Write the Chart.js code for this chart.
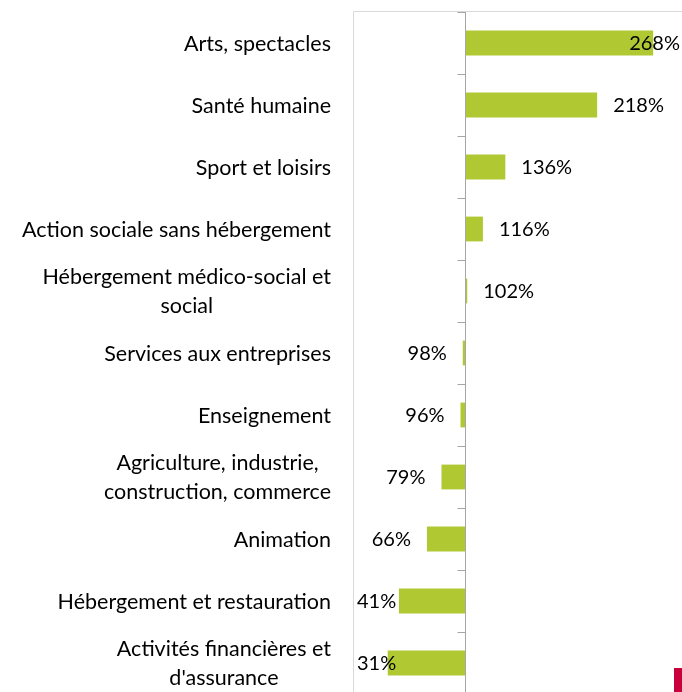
<!DOCTYPE html>
<html>
<head>
<meta charset="utf-8">
<script src="https://cdn.jsdelivr.net/npm/chart.js@4"></script>
<style>
  html, body { margin: 0; padding: 0; background: #fff; }
  #wrap { position: relative; width: 682px; height: 692px; overflow: hidden; }
  #chart { position: absolute; left: 0; top: 0; }
  #mark { position: absolute; left: 674px; top: 668px; width: 8px; height: 24px; background: #c8003c; }
</style>
</head>
<body>
<div id="wrap">
  <canvas id="chart" width="700" height="700"></canvas>
  <div id="mark"></div>
</div>
<script>
const categories = [
    ['Arts, spectacles'],
    ['Santé humaine'],
    ['Sport et loisirs'],
    ['Action sociale sans hébergement'],
    ['Hébergement médico-social et', 'social'],
    ['Services aux entreprises'],
    ['Enseignement'],
    ['Agriculture, industrie,', 'construction, commerce'],
    ['Animation'],
    ['Hébergement et restauration'],
    ['Activités financières et', "d'assurance"]
];
const values = [268, 218, 136, 116, 102, 98, 96, 79, 66, 41, 31];
const baseline = 100;

const FONT_CAT = '21.5px Lato';
const FONT_VAL = '20px Lato';

// Axe vertical à 100 %, cadre, libellés des catégories et des valeurs
const decor = {
    id: 'decor',
    afterDatasetsDraw(chart) {
        const { ctx, chartArea: a, scales: { x, y } } = chart;
        const x0 = Math.round(x.getPixelForValue(baseline)) + 0.5;
        const step = y.getPixelForValue(1) - y.getPixelForValue(0);

        ctx.save();
        // cadre gris clair (haut + gauche)
        ctx.strokeStyle = '#d9d9d9';
        ctx.lineWidth = 1;
        ctx.beginPath();
        ctx.moveTo(a.left + 0.5, a.bottom);
        ctx.lineTo(a.left + 0.5, a.top - 0.5);
        ctx.lineTo(a.right, a.top - 0.5);
        ctx.stroke();

        // axe + graduations
        ctx.strokeStyle = '#a6a6a6';
        ctx.beginPath();
        ctx.moveTo(x0, a.top);
        ctx.lineTo(x0, a.bottom);
        for (let i = 0; i <= categories.length; i++) {
            const yy = Math.round(y.getPixelForValue(i) - step / 2) + 0.5;
            ctx.moveTo(x0 - 8, yy);
            ctx.lineTo(x0, yy);
        }
        ctx.stroke();

        ctx.fillStyle = '#000';
        ctx.textBaseline = 'middle';

        // libellés des catégories : bloc aligné à droite, lignes centrées
        ctx.font = FONT_CAT;
        const right = a.left - 22;
        const lh = 29;
        categories.forEach((lines, i) => {
            const cy = y.getPixelForValue(i);
            const w = Math.max(...lines.map(l => ctx.measureText(l).width));
            const cx = right - w / 2;
            ctx.textAlign = 'center';
            lines.forEach((l, k) => {
                ctx.fillText(l, cx, cy + 1 + (k - (lines.length - 1) / 2) * lh);
            });
        });

        // valeurs
        ctx.font = FONT_VAL;
        const gap = 16;
        const maxRight = 680;
        const minLeft = a.left + 4;
        ctx.textAlign = 'left';
        values.forEach((v, i) => {
            const cy = y.getPixelForValue(i);
            const txt = v + '%';
            const w = ctx.measureText(txt).width;
            const end = x.getPixelForValue(v);
            let left = v >= baseline ? end + gap : end - gap - w;
            left = Math.min(left, maxRight - w);
            left = Math.max(left, minLeft);
            ctx.fillText(txt, left, cy + 1);
        });
        ctx.restore();
    }
};

new Chart(document.getElementById('chart'), {
    type: 'bar',
    data: {
        labels: categories.map(c => c.join(' ')),
        datasets: [{
            data: values.map(v => [baseline, v]),
            backgroundColor: '#b0c832',
            borderWidth: 0,
            categoryPercentage: 1,
            barPercentage: 0.4
        }]
    },
    options: {
        indexAxis: 'y',
        responsive: false,
        animation: false,
        devicePixelRatio: 1,
        layout: { padding: { left: 353, top: 12, right: 11, bottom: 6 } },
        plugins: {
            legend: { display: false },
            tooltip: { enabled: false }
        },
        scales: {
            x: { type: 'linear', min: 0, max: 300, display: false },
            y: { display: false }
        }
    },
    plugins: [decor]
});
</script>
</body>
</html>
